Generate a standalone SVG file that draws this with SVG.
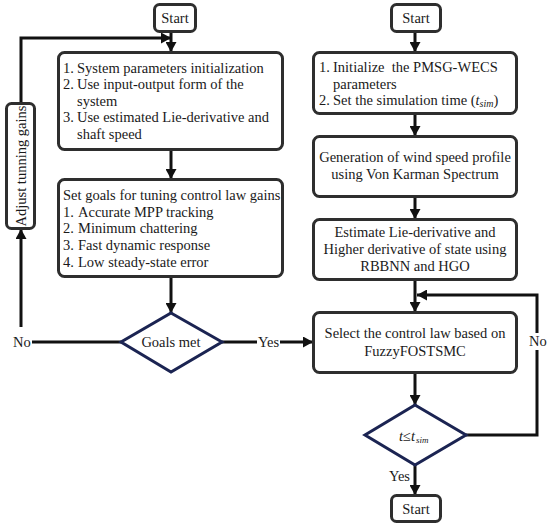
<svg xmlns="http://www.w3.org/2000/svg" width="550" height="528" viewBox="0 0 550 528">
<style>
.box{fill:#fff;stroke:#2e2e2e;stroke-width:3}
.dia{fill:#fff;stroke:#1b2452;stroke-width:3;stroke-linejoin:miter}
.ln{fill:none;stroke:#111;stroke-width:3}
text{font-family:"Liberation Serif","Times New Roman",serif;font-size:14.5px;fill:#1a1a1a}
.c{text-anchor:middle}
</style>
<defs>
<marker id="ah" markerUnits="userSpaceOnUse" markerWidth="11" markerHeight="11" refX="10" refY="5.5" orient="auto">
<path d="M0,0 L10,5.5 L0,11 z" fill="#111"/>
</marker>
</defs>
<rect width="550" height="528" fill="#fff"/>
<g id="connectors">
<path class="ln" d="M171,32 V52" marker-end="url(#ah)"/>
<path class="ln" d="M21,103 V38 H171" marker-end="url(#ah)"/>
<path class="ln" d="M171,150 V179" marker-end="url(#ah)"/>
<path class="ln" d="M171,277 V313" marker-end="url(#ah)"/>
<path class="ln" d="M121,342 H32"/>
<path class="ln" d="M21,327 V229" marker-end="url(#ah)"/>
<path class="ln" d="M222,342 H257"/>
<path class="ln" d="M280,342 H313" marker-end="url(#ah)"/>
<path class="ln" d="M415,32 V52" marker-end="url(#ah)"/>
<path class="ln" d="M415,114 V136" marker-end="url(#ah)"/>
<path class="ln" d="M415,197 V219" marker-end="url(#ah)"/>
<path class="ln" d="M415,280 V312" marker-end="url(#ah)"/>
<path class="ln" d="M466,435 H537 V350"/>
<path class="ln" d="M537,333 V295 H417" marker-end="url(#ah)"/>
<path class="ln" d="M415,373 V405" marker-end="url(#ah)"/>
<path class="ln" d="M415,465 V495" marker-end="url(#ah)"/>
<text x="13" y="347">No</text>
<text x="258" y="347">Yes</text>
<text x="529" y="346">No</text>
<text x="410" y="481" text-anchor="end">Yes</text>
</g>
<g id="start-left">
<rect class="box" x="154.5" y="4.5" width="41" height="27" rx="5"/>
<text class="c" x="175" y="23">Start</text>
</g>
<g id="init-left">
<rect class="box" x="58.5" y="52.5" width="224" height="97" rx="6"/>
<text x="63" y="72.5">1.</text><text x="77" y="72.5">System parameters initialization</text>
<text x="63" y="89">2.</text><text x="77" y="89">Use input-output form of the</text>
<text x="77" y="105.5">system</text>
<text x="63" y="122">3.</text><text x="77" y="122">Use estimated Lie-derivative and</text>
<text x="77" y="138.5">shaft speed</text>
</g>
<g id="goals-box">
<rect class="box" x="58.5" y="179.5" width="224" height="97" rx="6"/>
<text x="63" y="200">Set goals for tuning control law gains</text>
<text x="63" y="216.7">1.</text><text x="78" y="216.7">Accurate MPP tracking</text>
<text x="63" y="233.4">2.</text><text x="78" y="233.4">Minimum chattering</text>
<text x="63" y="250.1">3.</text><text x="78" y="250.1">Fast dynamic response</text>
<text x="63" y="266.8">4.</text><text x="78" y="266.8">Low steady-state error</text>
</g>
<g id="adjust">
<rect class="box" x="6.5" y="103.5" width="28" height="125" rx="5"/>
<text class="c" transform="translate(25.5,166) rotate(-90)">Adjust tunning gains</text>
</g>
<g id="goals-met">
<polygon class="dia" points="171,313 222,342 171,372 121,342"/>
<text class="c" x="171" y="347">Goals met</text>
</g>
<g id="start-right">
<rect class="box" x="391.5" y="4.5" width="49" height="27" rx="5"/>
<text class="c" x="416" y="23">Start</text>
</g>
<g id="init-right">
<rect class="box" x="313.5" y="52.5" width="203" height="61" rx="6"/>
<text x="319" y="72">1.</text><text x="333" y="72">Initialize&#160; the PMSG-WECS</text>
<text x="333" y="88.5">parameters</text>
<text x="319" y="105">2.</text><text x="333" y="105">Set the simulation time (<tspan font-style="italic">t</tspan><tspan font-style="italic" font-size="10" dy="2">sim</tspan><tspan dy="-2">)</tspan></text>
</g>
<g id="wind">
<rect class="box" x="313.5" y="136.5" width="203" height="60" rx="6"/>
<text class="c" x="415" y="162">Generation of wind speed profile</text>
<text class="c" x="415" y="178.5">using Von Karman Spectrum</text>
</g>
<g id="estimate">
<rect class="box" x="313.5" y="219.5" width="203" height="60" rx="6"/>
<text class="c" x="415" y="237">Estimate Lie-derivative and</text>
<text class="c" x="415" y="254">Higher derivative of state using</text>
<text class="c" x="415" y="271">RBBNN and HGO</text>
</g>
<g id="control">
<rect class="box" x="313.5" y="312.5" width="203" height="60" rx="6"/>
<text class="c" x="415" y="338">Select the control law based on</text>
<text class="c" x="415" y="355.5">FuzzyFOSTSMC</text>
</g>
<g id="time-check">
<polygon class="dia" points="415,405 466,435 415,465 365,435"/>
<text x="399" y="441" font-family="Liberation Sans, Arial, sans-serif"><tspan font-style="italic">t</tspan>≤<tspan font-style="italic">t</tspan><tspan font-style="italic" font-size="9" dy="2" dx="1">sim</tspan></text>
</g>
<g id="start-end">
<rect class="box" x="391.5" y="495.5" width="49" height="26" rx="5"/>
<text class="c" x="416" y="514">Start</text>
</g>
</svg>
